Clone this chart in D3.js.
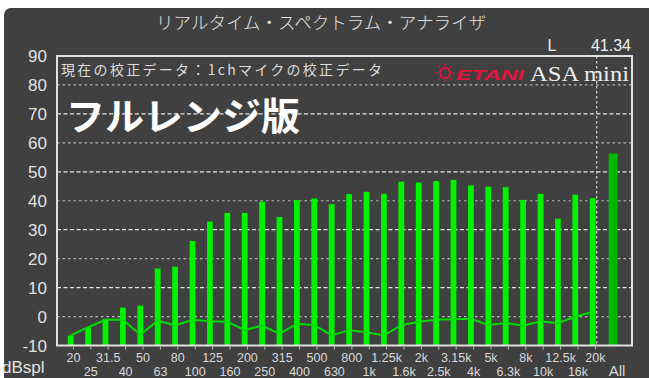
<!DOCTYPE html>
<html><head><meta charset="utf-8">
<script src="https://cdn.jsdelivr.net/npm/d3@7"></script>
<style>html,body{margin:0;padding:0;background:#fff;overflow:hidden}</style>
</head><body>
<svg id="c" width="649" height="378"></svg>
<script>
const bands = ["20","25","31.5","40","50","63","80","100","125","160","200","250","315","400","500","630","800","1k","1.25k","1.6k","2k","2.5k","3.15k","4k","5k","6.3k","8k","10k","12.5k","16k","20k","All"];
const levels = [-6.5,-3.7,-0.8,3.1,3.8,16.6,17.2,26.1,32.8,35.8,35.8,39.7,34.4,40.2,40.8,38.8,42.3,43.1,42.4,46.6,46.3,46.8,47.2,45.3,44.9,44.7,40.3,42.4,33.8,42.1,40.9,56.3];
const lineValues = [-6.5,-3.7,-1.1,-1.1,-6.3,-1.4,-3.1,-1.1,-1.6,-1.8,-4.7,-3.1,-6.0,-2.5,-2.9,-6.5,-4.7,-5.4,-6.5,-3.0,-1.8,-1.1,-0.9,-0.8,-2.9,-2.2,-3.2,-1.6,-2.3,0,1.6];
const yTicks = [-10,0,10,20,30,40,50,60,70,80,90];
const gridTicks = [0,10,20,30,40,50,60,70,80];
const title = "リアルタイム・スペクトラム・アナライザ";
const channel = "L", channelValue = "41.34";
const calibText = "現在の校正データ：1chマイクの校正データ";
const bigLabel = "フルレンジ版";
const unitLabel = "dBspl";

const svg = d3.select("#c");
const L = 57, R = 632, T = 56, B = 345.5;
const y = d3.scaleLinear().domain([-10, 90]).range([B, T]);
const x = d3.scaleBand().domain(bands).range([62, 62 + 17.4 * bands.length]);
const cx = d => x(d) + x.bandwidth() / 2 + (d === "All" ? 3 : 0);

// background panel
svg.append("rect").attr("x", 0).attr("y", 0).attr("width", 649).attr("height", 378).attr("fill", "#fff");
svg.append("rect").attr("x", 4).attr("y", 8).attr("width", 660).attr("height", 390).attr("rx", 7).attr("fill", "#404040");

// title
svg.append("text").attr("x", 321).attr("y", 29).attr("text-anchor", "middle")
  .attr("font-family", "Noto Sans CJK JP").attr("font-weight", 300).attr("font-size", 17.5).attr("fill", "#e2e2e2").text(title);
svg.append("text").attr("x", 552).attr("y", 51).attr("text-anchor", "middle")
  .attr("font-family", "Liberation Sans").attr("font-size", 16).attr("fill", "#eee").text(channel);
svg.append("text").attr("x", 631).attr("y", 51).attr("text-anchor", "end")
  .attr("font-family", "Liberation Sans").attr("font-size", 16).attr("fill", "#eee").text(channelValue);

// grid
svg.append("g").selectAll("line").data(gridTicks).join("line")
  .attr("x1", L).attr("x2", R).attr("y1", d => y(d)).attr("y2", d => y(d))
  .attr("stroke", (d,i) => i % 2 ? "#e8e8e8" : "#b8b8b8").attr("stroke-width", 1.2)
  .attr("stroke-dasharray", (d,i) => i % 2 ? "4,2.5" : "2.5,3");

// separator
const sepX = cx("20k") + 4;
svg.append("line").attr("x1", sepX).attr("x2", sepX).attr("y1", T).attr("y2", B)
  .attr("stroke", "#d8d8d8").attr("stroke-width", 1.2).attr("stroke-dasharray", "2.5,2.5");

// bars
svg.append("g").selectAll("rect").data(bands).join("rect")
  .attr("x", (d) => cx(d) - (d === "All" ? 4.5 : 2.9))
  .attr("width", d => d === "All" ? 9 : 5.8)
  .attr("y", (d,i) => y(levels[i]))
  .attr("height", (d,i) => y(-10) - y(levels[i]))
  .attr("fill", d => d === "All" ? "#00b800" : "#00f200");

// line
const line = d3.line().x((d,i) => cx(bands[i])).y(d => y(d));
svg.append("path").datum(lineValues).attr("d", line)
  .attr("fill", "none").attr("stroke", "#00dd00").attr("stroke-width", 2);

// frame
svg.append("rect").attr("x", L).attr("y", T).attr("width", R - L).attr("height", B - T)
  .attr("fill", "none").attr("stroke", "#e0e0e0").attr("stroke-width", 2);

// bottom ticks
svg.append("g").selectAll("line").data(bands.slice(0, 31)).join("line")
  .attr("x1", d => cx(d) + 2.7).attr("x2", d => cx(d) + 2.7).attr("y1", B + 1).attr("y2", B + 4)
  .attr("stroke", "#bbb").attr("stroke-width", 1);

// y labels
svg.append("g").selectAll("text").data(yTicks).join("text")
  .attr("x", 47).attr("y", d => y(d) + 6).attr("text-anchor", "end")
  .attr("font-family", "Liberation Sans").attr("font-size", 17).attr("fill", "#e0e0e0")
  .text(d => d);

// x labels
svg.append("g").selectAll("text").data(bands).join("text")
  .attr("x", d => cx(d) + (d === "All" ? 4 : 2.7))
  .attr("y", (d,i) => i % 2 ? 376 : 362)
  .attr("text-anchor", "middle")
  .attr("font-family", "Liberation Sans").attr("font-size", d => d === "All" ? 15 : 12.5)
  .attr("fill", "#d8d8d8").text(d => d);

svg.append("text").attr("x", 2).attr("y", 373)
  .attr("font-family", "Liberation Sans").attr("font-size", 17).attr("fill", "#e0e0e0").text(unitLabel);

// calibration text
svg.append("text").attr("x", 61).attr("y", 75).attr("textLength", 321).attr("lengthAdjust", "spacing")
  .attr("font-family", "Noto Sans CJK JP").attr("font-size", 14).attr("fill", "#dcdcdc").text(calibText);

// logo
const logo = svg.append("g");
logo.append("circle").attr("cx", 445).attr("cy", 73).attr("r", 5).attr("fill", "none")
  .attr("stroke", "#e0143c").attr("stroke-width", 2);
logo.selectAll(".dot").data(d3.range(8)).join("circle")
  .attr("cx", d => 445 + 8 * Math.cos(d * Math.PI / 4))
  .attr("cy", d => 73 + 8 * Math.sin(d * Math.PI / 4))
  .attr("r", 1).attr("fill", "#e0143c");
logo.append("text").attr("x", 456).attr("y", 80).attr("textLength", 68).attr("lengthAdjust", "spacingAndGlyphs")
  .attr("font-family", "Liberation Sans").attr("font-weight", "bold").attr("font-style", "italic")
  .attr("font-size", 15).attr("fill", "#e0143c").text("ETANI");
logo.append("text").attr("x", 530).attr("y", 81).attr("textLength", 99).attr("lengthAdjust", "spacingAndGlyphs")
  .attr("font-family", "Liberation Serif").attr("font-size", 21).attr("fill", "#ececec").text("ASA mini");

// big label
svg.append("text").attr("x", 66).attr("y", 130).attr("textLength", 234).attr("lengthAdjust", "spacingAndGlyphs")
  .attr("font-family", "Noto Sans CJK JP").attr("font-weight", "bold").attr("font-size", 38)
  .attr("fill", "#fff").text(bigLabel);
</script>
</body></html>
